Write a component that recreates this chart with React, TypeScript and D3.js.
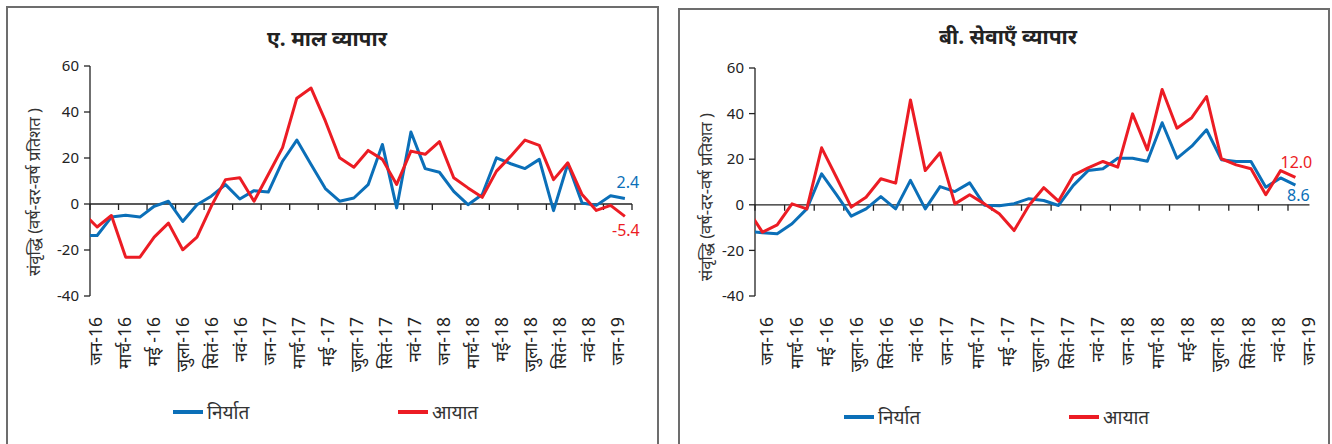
import React from "react";
import * as d3 from "d3";

// Month labels (every second month)
const monthLabels = [
  "जन-16", "मार्च-16", "मई -16", "जुला-16", "सितं-16", "नवं-16",
  "जन-17", "मार्च-17", "मई -17", "जुला-17", "सितं-17", "नवं-17",
  "जन-18", "मार्च-18", "मई-18", "जुला-18", "सितं-18", "नवं-18", "जन-19",
];
const yTicks = [60, 40, 20, 0, -20, -40];

// A. Merchandise trade: Dec-15 .. Feb-19 (y-o-y %)
const goodsExports = [
  -13.7, -13.7, -5.7, -4.9, -5.7, -1.0, 1.2, -7.6, -0.3, 3.4, 8.4, 2.2, 5.8,
  5.2, 18.6, 27.8, 17.2, 6.7, 1.2, 2.6, 8.4, 25.9, -1.7, 31.3, 15.4, 13.8, 5.5,
  -0.3, 4.1, 20.1, 17.5, 15.4, 19.4, -2.9, 17.5, 0.4, -0.6, 3.6, 2.4,
];
const goodsImports = [
  -3.8, -10.0, -5.0, -23.1, -23.1, -14.4, -8.3, -19.9, -14.4, -1.0, 10.6, 11.4,
  1.2, 12.8, 24.5, 46.0, 50.4, 36.1, 20.1, 16.0, 23.3, 19.4, 8.5, 23.0, 21.6,
  27.1, 11.4, 7.0, 2.9, 14.3, 20.8, 27.8, 25.5, 10.6, 17.9, 4.1, -2.8, -0.6, -5.4,
];

// B. Services trade: Dec-15 .. Jan-19 (y-o-y %)
const servicesExports = [
  -11.5, -12.3, -12.7, -8.3, -1.8, 13.6, 4.5, -5.0, -1.8, 3.6, -1.8, 10.7, -1.8,
  8.0, 5.8, 9.6, -0.2, -0.4, 0.5, 2.7, 1.9, -0.3, 8.5, 15.0, 15.8, 20.4, 20.4,
  19.1, 36.0, 20.4, 25.7, 32.9, 19.8, 19.0, 19.0, 7.7, 11.8, 8.6,
];
const servicesImports = [
  -2.0, -12.0, -8.8, 0.4, -1.8, 25.0, 12.1, -1.0, 3.3, 11.4, 9.5, 46.0, 15.0,
  22.8, 0.4, 4.4, 0.4, -3.9, -11.3, -0.3, 7.5, 1.6, 12.9, 16.2, 19.0, 16.5, 39.9,
  24.1, 50.6, 33.6, 38.2, 47.5, 20.2, 17.5, 15.8, 4.4, 15.0, 12.0,
];

const legendNames = ["निर्यात", "आयात"];
const yTitle = "संवृद्धि (वर्ष-दर-वर्ष प्रतिशत )";

const BLUE = "#0b6fb8";
const RED = "#ec1c24";
const FONT = "'Noto Sans', 'Noto Sans Devanagari', 'Lohit Devanagari', sans-serif";

type PanelProps = {
  id: string;
  title: string;
  titleX: number;
  titleY: number;
  border: [number, number, number, number];
  exportsData: number[];
  importsData: number[];
  xDomain: [number, number];
  xRange: [number, number];
  axisEnd: number;
  tickCount: number;
  yRange: [number, number];
  labelRange: [number, number];
  yTitleX: number;
  yTitleY: number;
  legendY: number;
  legendX: [number, number];
  expLabel: string;
  impLabel: string;
  expDy: number;
  impDy: number;
};

function Panel(p: PanelProps) {
  const x = d3.scaleLinear().domain(p.xDomain).range(p.xRange);
  const y = d3.scaleLinear().domain([-40, 60]).range(p.yRange);
  const lx = d3.scalePoint<string>().domain(monthLabels).range(p.labelRange);
  const x0 = x(0.5);
  const xEnd = x(p.axisEnd);
  const line = d3
    .line<number>()
    .x((_, i) => x(i))
    .y((d) => y(d));
  const ticks = d3.range(p.tickCount).map((k) => 0.5 + 2 * k);
  const lastE = p.exportsData.length - 1;
  const lastI = p.importsData.length - 1;
  const [bx, by, bw, bh] = p.border;
  return (
    <g>
      <rect x={bx} y={by} width={bw} height={bh} fill="none" stroke="#6d6d6d" strokeWidth={2} />
      <text x={p.titleX} y={p.titleY} textAnchor="middle" fontSize={21} fontWeight="bold" fill="#222">
        {p.title}
      </text>
      <clipPath id={p.id}>
        <rect x={x0} y={0} width={xEnd - x0} height={444} />
      </clipPath>
      {/* y axis */}
      <line x1={x0} x2={x0} y1={y(60)} y2={y(-40)} stroke="#222" strokeWidth={1.3} />
      {yTicks.map((t) => (
        <g key={t}>
          <line x1={x0 - 6} x2={x0} y1={y(t)} y2={y(t)} stroke="#222" strokeWidth={1.3} />
          <text x={x0 - 11} y={y(t)} dy="0.35em" textAnchor="end" fontSize={15} fill="#222">
            {t}
          </text>
        </g>
      ))}
      {/* x axis at zero */}
      <line x1={x0} x2={xEnd} y1={y(0)} y2={y(0)} stroke="#222" strokeWidth={1.3} />
      {ticks.map((t) => (
        <line key={t} x1={x(t)} x2={x(t)} y1={y(0)} y2={y(0) + 6} stroke="#222" strokeWidth={1.3} />
      ))}
      {monthLabels.map((m) => (
        <text
          key={m}
          transform={`translate(${lx(m)},317) rotate(-90)`}
          dy="0.35em"
          textAnchor="end"
          fontSize={17.5}
          fill="#222"
        >
          {m}
        </text>
      ))}
      <text
        transform={`translate(${p.yTitleX},${p.yTitleY}) rotate(-90)`}
        textAnchor="middle"
        dy="0.35em"
        fontSize={16.5}
        fill="#333"
      >
        {yTitle}
      </text>
      <g clipPath={`url(#${p.id})`}>
        <path d={line(p.exportsData) ?? ""} fill="none" stroke={BLUE} strokeWidth={3} strokeLinejoin="round" />
        <path d={line(p.importsData) ?? ""} fill="none" stroke={RED} strokeWidth={3} strokeLinejoin="round" />
      </g>
      <text x={x(lastE) + 3} y={y(p.exportsData[lastE]) + p.expDy} textAnchor="middle" fontSize={16} fill={BLUE}>
        {p.expLabel}
      </text>
      <text x={x(lastI) + 1} y={y(p.importsData[lastI]) + p.impDy} textAnchor="middle" fontSize={16} fill={RED}>
        {p.impLabel}
      </text>
      {/* legend */}
      {legendNames.map((n, k) => (
        <g key={n}>
          <line
            x1={p.legendX[k]}
            x2={p.legendX[k] + 30}
            y1={p.legendY}
            y2={p.legendY}
            stroke={k === 0 ? BLUE : RED}
            strokeWidth={4}
          />
          <text x={p.legendX[k] + 34} y={p.legendY} dy="0.35em" fontSize={19} fill="#333">
            {n}
          </text>
        </g>
      ))}
    </g>
  );
}

export default function App() {
  return (
    <svg
      width={1332}
      height={444}
      style={{ position: "absolute", left: 0, top: 0, background: "#fff", fontFamily: FONT }}
    >
      <rect width={1332} height={444} fill="#fff" />
      <Panel
        id="clipA"
        title="ए. माल व्यापार"
        titleX={327}
        titleY={46}
        border={[7, 7, 651, 450]}
        exportsData={goodsExports}
        importsData={goodsImports}
        xDomain={[0.5, 38.5]}
        xRange={[90, 632]}
        axisEnd={38.5}
        tickCount={20}
        yRange={[296, 66]}
        labelRange={[95.5, 618]}
        yTitleX={34}
        yTitleY={192}
        legendY={412}
        legendX={[173, 398]}
        expLabel="2.4"
        impLabel="-5.4"
        expDy={-10}
        impDy={20}
      />
      <Panel
        id="clipB"
        title="बी. सेवाएँ व्यापार"
        titleX={1008}
        titleY={44}
        border={[679, 9, 650, 450]}
        exportsData={servicesExports}
        importsData={servicesImports}
        xDomain={[0.5, 36.5]}
        xRange={[755, 1288]}
        axisEnd={37.95}
        tickCount={19}
        yRange={[296, 68]}
        labelRange={[766.7, 1308.7]}
        yTitleX={706}
        yTitleY={197}
        legendY={417}
        legendX={[844, 1069]}
        expLabel="8.6"
        impLabel="12.0"
        expDy={16}
        impDy={-9}
      />
    </svg>
  );
}
